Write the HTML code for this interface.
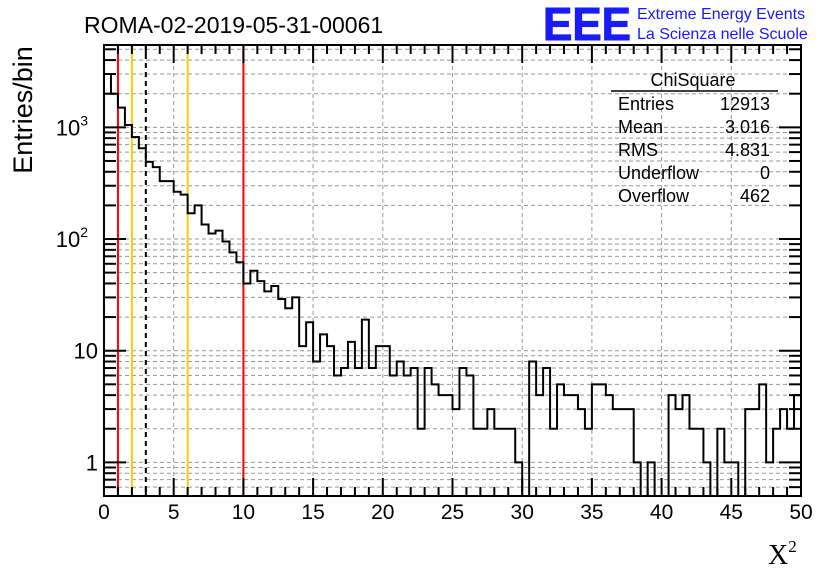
<!DOCTYPE html>
<html><head><meta charset="utf-8"><style>
body{margin:0;background:#fff;}
svg{display:block;font-family:"Liberation Sans",sans-serif;}
</style></head><body>
<svg id="c" width="836" height="572" viewBox="0 0 836 572">
<rect width="836" height="572" fill="#fff"/>
<text x="84" y="33" font-size="23">ROMA-02-2019-05-31-00061</text>
<g>
<text x="543" y="40" font-size="46" font-weight="bold" fill="#1a1aff" stroke="#1a1aff" stroke-width="1" textLength="88" lengthAdjust="spacingAndGlyphs">EEE</text>
<text x="637" y="19" font-size="16" fill="#1a1aff">Extreme Energy Events</text>
<text x="637" y="39" font-size="16" fill="#1a1aff">La Scienza nelle Scuole</text>
</g>
<g id="grid"></g>
<g id="marks"></g>
<path id="hist" fill="none" stroke="#000" stroke-width="2"/>
<rect x="104" y="45" width="697" height="451" fill="none" stroke="#000" stroke-width="2"/>
<g id="ticks"></g>
<text transform="translate(32,110) rotate(-90)" font-size="27" text-anchor="middle">Entries/bin</text>
<text x="768" y="564" font-size="28" font-family="Liberation Serif,serif">X<tspan font-size="17" dy="-12">2</tspan></text>
<g font-size="18">
<text x="693" y="86" text-anchor="middle">ChiSquare</text>
<line x1="611" y1="91" x2="778" y2="91" stroke="#000" stroke-width="1.5"/>
<text x="618" y="110">Entries</text><text x="770" y="110" text-anchor="end">12913</text>
<text x="618" y="133">Mean</text><text x="770" y="133" text-anchor="end">3.016</text>
<text x="618" y="156">RMS</text><text x="770" y="156" text-anchor="end">4.831</text>
<text x="618" y="179">Underflow</text><text x="770" y="179" text-anchor="end">0</text>
<text x="618" y="202">Overflow</text><text x="770" y="202" text-anchor="end">462</text>
</g>
</svg>
<script>
const binWidth = 0.5;
const counts = [3000,2000,1500,1050,820,650,490,440,330,330,265,250,170,200,135,112,119,95,76,62,
40,52,42,34,38,29,24,30,11,18,8,14,11,6,7,12,7,19,7,11,
11,6,8,6,7,2,7,5,4,4,3,7,6,2,2,3,2,2,2,1,
0,8,4,7,2,5,4,4,3,2,5,5,4,3,3,3,1,0,1,0,
0,4,3,4,2,2,1,0,2,1,1,0,3,3,5,1,2,3,2,4];
const xTicks = [0,5,10,15,20,25,30,35,40,45,50];
const yTicks = [{v:1,t:"1"},{v:10,t:"10"},{v:100,t:"10",e:"2"},{v:1000,t:"10",e:"3"}];
const refLines = [{x:1,c:"#ff0000",d:""},{x:2,c:"#ffcc00",d:""},{x:3,c:"#000",d:"5,4"},{x:6,c:"#ffcc00",d:""},{x:10,c:"#ff0000",d:""}];
const X0=104,X1=801,Y0=496,Y1=45,xmin=0,xmax=50,lmin=Math.log10(0.5),lmax=Math.log10(5460);
const xs=v=>X0+(v-xmin)/(xmax-xmin)*(X1-X0);
const ys=v=>Y0-(Math.log10(v)-lmin)/(lmax-lmin)*(Y0-Y1);
const NS="http://www.w3.org/2000/svg";
function mk(tag,attrs,parent){const e=document.createElementNS(NS,tag);for(const k in attrs)e.setAttribute(k,attrs[k]);parent.appendChild(e);return e;}
const grid=document.getElementById('grid'),ticks=document.getElementById('ticks'),marks=document.getElementById('marks');
xTicks.forEach(v=>{
 if(v>xmin&&v<xmax){const g=mk('line',{x1:xs(v),x2:xs(v),y1:Y1,y2:Y0,stroke:'#999','stroke-dasharray':'4,3'},grid);
 
 }
 const t=mk('text',{x:xs(v),y:519,'font-size':21,'text-anchor':'middle'},ticks);t.textContent=v;
 
 
});
for(let v=0;v<=50;v+=1){const x=xs(v);const L=v%5===0?18:9;
 mk('line',{x1:x,x2:x,y1:Y0,y2:Y0-L,stroke:'#000','stroke-width':2},ticks);
 mk('line',{x1:x,x2:x,y1:Y1,y2:Y1+L,stroke:'#000','stroke-width':2},ticks);}
for(let d=-1;d<=3;d++)for(let m=1;m<=9;m++){const v=m*Math.pow(10,d);if(v<0.5||v>5460)continue;const y=ys(v);
 const g=mk('line',{x1:X0,x2:X1,y1:y,y2:y,stroke:'#999','stroke-dasharray':'4,3'},grid);
 
 
 const L=m===1?22:12;
 mk('line',{x1:X0,x2:X0+L,y1:y,y2:y,stroke:'#000','stroke-width':2},ticks);
 mk('line',{x1:X1,x2:X1-L,y1:y,y2:y,stroke:'#000','stroke-width':2},ticks);}
yTicks.forEach(o=>{const t=mk('text',{x:o.e?88:98,y:ys(o.v)+8,'font-size':22,'text-anchor':'end'},ticks);t.textContent=o.t;
 
 
 if(o.e){const s=mk('tspan',{'font-size':14,dy:-10},t);s.textContent=o.e;}});
refLines.forEach(r=>{const l=mk('line',{x1:xs(r.x),x2:xs(r.x),y1:Y1,y2:Y0,stroke:r.c,'stroke-width':2,'stroke-dasharray':r.d},marks);
 
 });
let d='',prev=Y0;
counts.forEach((c,i)=>{const xa=xs(i*binWidth),xb=xs((i+1)*binWidth);const y=c>0?Math.min(ys(c),Y0):Y0;
 if(i===0)d+=`M${xa},${y}`;else d+=`L${xa},${y}`;d+=`L${xb},${y}`;});
document.getElementById('hist').setAttribute('d',d);
</script>
</body></html>
